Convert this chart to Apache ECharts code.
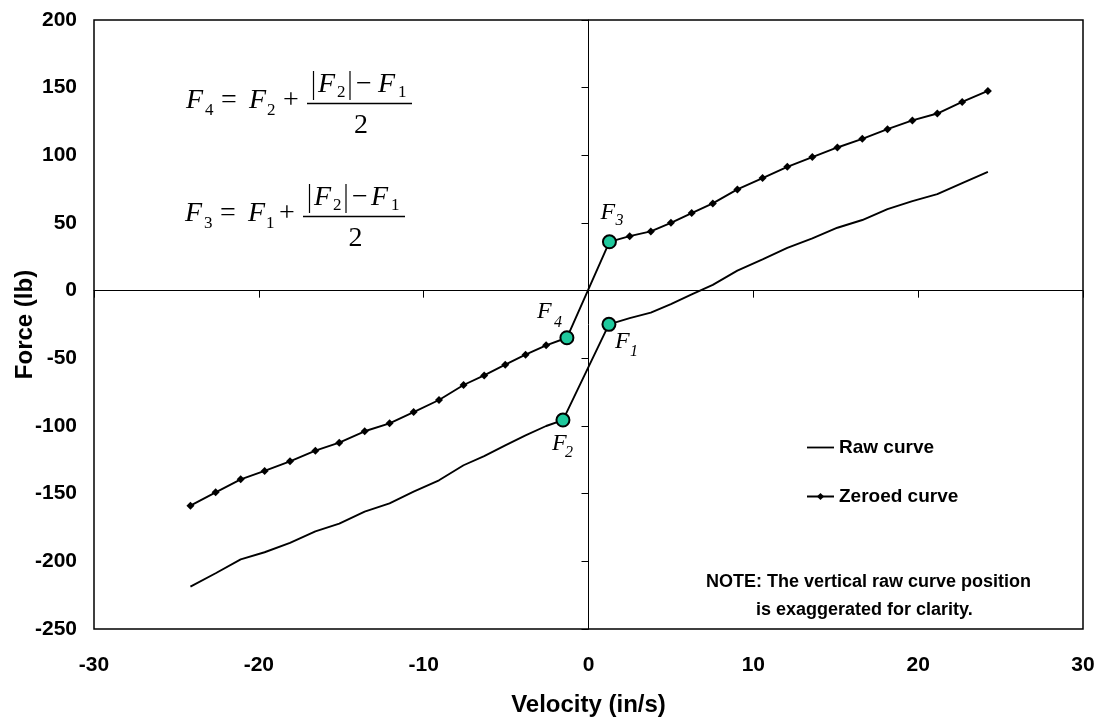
<!DOCTYPE html>
<html><head><meta charset="utf-8">
<script src="https://cdn.jsdelivr.net/npm/echarts@6/dist/echarts.min.js"></script>
<style>html,body{margin:0;padding:0;background:#fff}#c{width:1099px;height:717px}</style>
</head><body><div id="c"></div>
<script>
// ---- data ----
const xTickValues = [-30, -20, -10, 0, 10, 20, 30];
const yTickValues = [-250, -200, -150, -100, -50, 0, 50, 100, 150, 200];

const rawVelocity = [-24.15, -22.62, -21.10, -19.65, -18.11, -16.57, -15.12, -13.58, -12.07, -10.61, -9.07, -7.58, -6.33, -5.05, -3.82, -2.57, -1.55,
                     1.24, 2.50, 3.78, 5.00, 6.26, 7.54, 9.03, 10.56, 12.06, 13.58, 15.10, 16.61, 18.14, 19.65, 21.16, 22.67, 24.23];
const rawForce = [-218.7, -208.8, -198.5, -193.3, -186.4, -177.8, -172.1, -163.3, -157.1, -148.5, -140.1, -129.0, -122.2, -114.3, -106.9, -100.0, -95.6,
                  -24.9, -20.3, -16.2, -9.9, -2.7, 4.3, 14.8, 23.2, 31.6, 38.7, 46.5, 52.2, 60.2, 66.2, 71.3, 79.5, 87.8];

const zeroedVelocity = [-24.15, -22.62, -21.10, -19.65, -18.11, -16.57, -15.12, -13.58, -12.07, -10.61, -9.07, -7.58, -6.33, -5.05, -3.82, -2.57, -1.31,
                        1.27, 2.50, 3.78, 5.00, 6.26, 7.54, 9.03, 10.56, 12.06, 13.58, 15.10, 16.61, 18.14, 19.65, 21.16, 22.67, 24.23];
const zeroedForce = [-158.9, -149.0, -139.4, -133.2, -126.1, -118.2, -112.3, -103.9, -98.0, -89.7, -80.8, -69.7, -62.6, -54.7, -47.3, -40.4, -34.8,
                     36.1, 40.3, 43.8, 50.1, 57.3, 64.5, 74.8, 83.2, 91.5, 98.7, 105.8, 112.2, 119.3, 125.8, 130.9, 139.5, 147.6];

const keyLabels = ['1', '2', '3', '4'];          // F1..F4 subscripts
const keyVelocity = [1.24, -1.55, 1.27, -1.31];
const keyForce = [-24.9, -95.6, 36.1, -34.8];

const seriesNames = ['Raw curve', 'Zeroed curve'];
const noteLines = ['NOTE: The vertical raw curve position', 'is exaggerated for clarity.'];
const xName = 'Velocity (in/s)';
const yName = 'Force (lb)';

// ---- chart ----
const chart = echarts.init(document.getElementById('c'), null, {renderer: 'canvas'});
const SANS = 'Liberation Sans, Arial, sans-serif';
const SERIF = 'Liberation Serif, Times New Roman, serif';

const zip = (a, b) => a.map((v, i) => [v, b[i]]);

const option = {
  animation: false,
  backgroundColor: '#fff',
  grid: {left: 94, right: 16, top: 20, bottom: 88, outerBoundsMode: 'none', containLabel: false,
         show: true, borderColor: '#000', borderWidth: 1.5, backgroundColor: 'transparent'},
  legend: {
    data: [{name: seriesNames[0], icon: 'path://M0 0H27V1.8H0Z'}, {name: seriesNames[1]}],
    orient: 'vertical', left: 806, top: 438, itemGap: 30, padding: 0,
    itemWidth: 27, itemHeight: 9,
    textStyle: {fontFamily: SANS, fontWeight: 'bold', fontSize: 19, color: '#000'}
  },
  xAxis: [
    {type: 'value', min: xTickValues[0], max: xTickValues[xTickValues.length - 1], interval: 10, position: 'bottom',
     axisLine: {show: true, onZero: true, lineStyle: {color: '#000', width: 1}},
     axisTick: {show: true, length: 7, lineStyle: {color: '#000', width: 1}},
     axisLabel: {show: false}, splitLine: {show: false}},
    {type: 'value', min: xTickValues[0], max: xTickValues[xTickValues.length - 1], interval: 10, position: 'bottom',
     axisLine: {show: false, onZero: false}, axisTick: {show: false}, splitLine: {show: false},
     axisLabel: {margin: 26, fontFamily: SANS, fontWeight: 'bold', fontSize: 21, color: '#000'},
     name: xName, nameLocation: 'middle', nameGap: 64, nameMoveOverlap: false,
     nameTextStyle: {fontFamily: SANS, fontWeight: 'bold', fontSize: 24, color: '#000'}}
  ],
  yAxis: [
    {type: 'value', min: yTickValues[0], max: yTickValues[yTickValues.length - 1], interval: 50, position: 'left',
     axisLine: {show: true, onZero: true, lineStyle: {color: '#000', width: 1}},
     axisTick: {show: true, length: 7, lineStyle: {color: '#000', width: 1}},
     axisLabel: {show: false}, splitLine: {show: false}},
    {type: 'value', min: yTickValues[0], max: yTickValues[yTickValues.length - 1], interval: 50, position: 'left',
     axisLine: {show: false, onZero: false}, axisTick: {show: false}, splitLine: {show: false},
     axisLabel: {margin: 17, fontFamily: SANS, fontWeight: 'bold', fontSize: 21, color: '#000'},
     name: yName, nameLocation: 'middle', nameGap: 57, nameMoveOverlap: false,
     nameTextStyle: {fontFamily: SANS, fontWeight: 'bold', fontSize: 24, color: '#000'}}
  ],
  series: [
    {name: seriesNames[0], type: 'line', xAxisIndex: 0, yAxisIndex: 0, data: zip(rawVelocity, rawForce),
     symbol: 'none', lineStyle: {color: '#000', width: 1.9}, itemStyle: {color: '#000'}, z: 3},
    {name: seriesNames[1], type: 'line', xAxisIndex: 0, yAxisIndex: 0, data: zip(zeroedVelocity, zeroedForce),
     symbol: 'diamond', symbolSize: 8, lineStyle: {color: '#000', width: 1.9}, itemStyle: {color: '#000'}, z: 3},
    {name: 'key', type: 'scatter', xAxisIndex: 0, yAxisIndex: 0, data: zip(keyVelocity, keyForce),
     symbol: 'circle', symbolSize: 13, itemStyle: {color: '#1fc99d', borderColor: '#000', borderWidth: 2, opacity: 1}, z: 5}
  ]
};
chart.setOption(option);

// ---- annotations ----
function txt(x, y, s, size, opts) {
  opts = opts || {};
  return {type: 'text', z: 10, silent: true, style: {
    text: s, x: x, y: y, fill: '#000', fontSize: size,
    fontFamily: opts.family || SERIF, fontStyle: opts.italic ? 'italic' : 'normal',
    fontWeight: opts.bold ? 'bold' : 'normal',
    align: opts.align || 'left', verticalAlign: 'middle'}};
}
function ln(x1, y1, x2, y2, w) {
  return {type: 'line', z: 10, silent: true, shape: {x1, y1, x2, y2}, style: {stroke: '#000', lineWidth: w || 1.3}};
}
function formula(x0, y0, a, b, sh) {
  const F = 28, S = 17;
  return [
    txt(x0, y0, 'F', F, {italic: true}),
    txt(x0 + 19, y0 + 10, a, S),
    txt(x0 + 35, y0, '=', F),
    txt(x0 + 63, y0, 'F', F, {italic: true}),
    txt(x0 + 81, y0 + 10, b, S),
    txt(x0 + 97 + sh, y0, '+', F),
    ln(x0 + 121 + sh, y0 + 2.5, x0 + 226 + sh * 2, y0 + 2.5),
    ln(x0 + 127.5 + sh, y0 - 30, x0 + 127.5 + sh, y0 - 1, 1.2),
    txt(x0 + 132 + sh, y0 - 16, 'F', F, {italic: true}),
    txt(x0 + 151 + sh, y0 - 8, '2', S),
    ln(x0 + 164 + sh, y0 - 30, x0 + 164 + sh, y0 - 1, 1.2),
    txt(x0 + 170 + sh, y0 - 16, '\u2212', F),
    txt(x0 + 192 + sh * 2, y0 - 16, 'F', F, {italic: true}),
    txt(x0 + 212 + sh * 2, y0 - 8, '1', S),
    txt(x0 + 175 + sh * 1.5, y0 + 25, '2', F, {align: 'center'})
  ];
}

const keyOffsets = [ // [dxF, dyF, dxSub, dySub] relative to marker centre
  [6, 17, 21, 27],     // F1
  [-11, 24, 2, 33],    // F2
  [-9, -29, 6, -21],   // F3
  [-30, -26, -13, -15] // F4
];
const graphics = [].concat(
  formula(186, 101, '4', '2', 0),
  formula(185, 214, '3', '1', -3),
  [txt(706, 582, noteLines[0], 18, {family: SANS, bold: true}),
   txt(756, 610, noteLines[1], 18, {family: SANS, bold: true})]
);
keyVelocity.forEach((v, i) => {
  const p = chart.convertToPixel({xAxisIndex: 0, yAxisIndex: 0}, [v, keyForce[i]]);
  const o = keyOffsets[i];
  graphics.push(txt(p[0] + o[0], p[1] + o[1], 'F', 24, {italic: true}));
  graphics.push(txt(p[0] + o[2], p[1] + o[3], keyLabels[i], 16, {italic: true}));
});
chart.setOption({graphic: {elements: graphics}});
</script>
</body></html>
